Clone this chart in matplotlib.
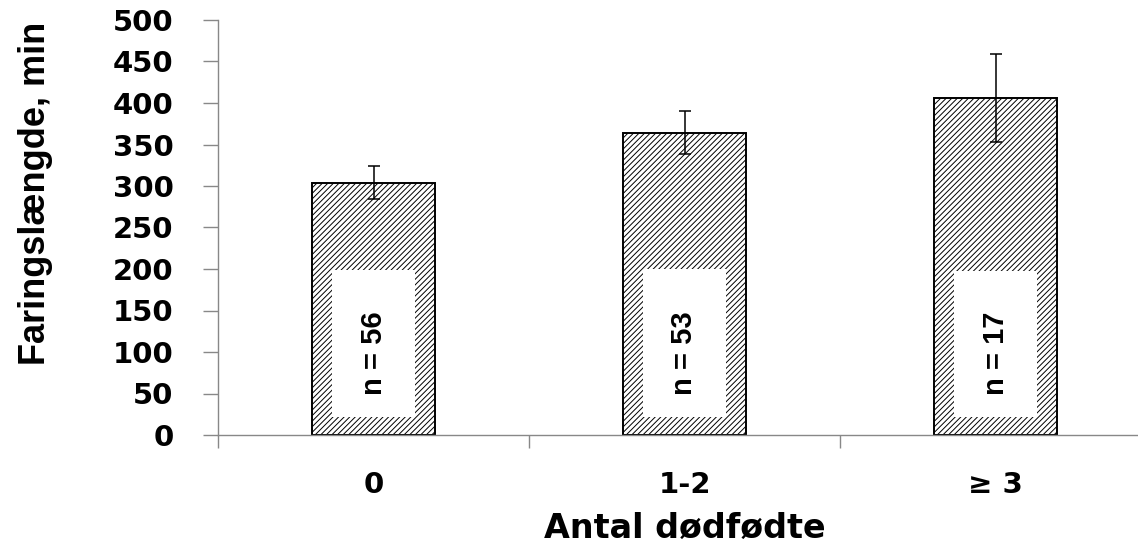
import matplotlib
matplotlib.use("Agg")
import matplotlib.pyplot as plt
import numpy as np

categories = ["0", "1-2", "\u2265 3"]
means = [304, 364, 406]
errors = [20, 26, 53]
n_labels = ["n = 56", "n = 53", "n = 17"]
box_bottom = [22, 22, 22]
box_top = [199, 200, 198]
yticks = [0, 50, 100, 150, 200, 250, 300, 350, 400, 450, 500]

plt.rcParams['hatch.linewidth'] = 0.7
plt.rcParams['hatch.color'] = '#222222'

fig = plt.figure(figsize=(11.38, 5.46), dpi=100)
ax = fig.add_axes([218/1138, 1-435/546, 933/1138, 415/546])

x = np.arange(len(categories))
ax.bar(x, means, width=0.395, color='white', edgecolor='black',
       linewidth=1.4, hatch='//////', zorder=2)
ax.errorbar(x, means, yerr=errors, fmt='none', ecolor='black',
            elinewidth=1.1, capsize=4, capthick=1.1, zorder=4)
heights = [t - b for t, b in zip(box_top, box_bottom)]
ax.bar(x, heights, bottom=box_bottom, width=0.267, color='white',
       edgecolor='none', zorder=3)
sans = ['Liberation Sans', 'DejaVu Sans']
for xi, lab, b, t in zip(x, n_labels, box_bottom, box_top):
    ax.text(xi, (b + t) / 2 - 12, lab, rotation=90, ha='center', va='center',
            fontsize=21, fontweight='bold', family=sans, zorder=5)

ax.set_xlim(-0.5, 2.5)
ax.set_ylim(0, 500)
ax.set_yticks(yticks)
ax.set_yticklabels([str(v) for v in yticks], fontsize=21, fontweight='bold',
                   family='DejaVu Sans')
ax.set_xticks([-0.5, 0.5, 1.5, 2.5])
ax.set_xticklabels([])
ax.set_xticks(x, minor=True)
ax.set_xticklabels(categories, minor=True, fontsize=21, fontweight='bold',
                   family='DejaVu Sans')
ax.tick_params(axis='y', direction='out', length=11, width=1, color='#888888', pad=21)
ax.tick_params(axis='x', which='major', direction='out', length=9, width=1, color='#888888')
ax.tick_params(axis='x', which='minor', length=0, pad=26)

for s in ['top', 'right']:
    ax.spines[s].set_visible(False)
for s in ['left', 'bottom']:
    ax.spines[s].set_color('#888888')
    ax.spines[s].set_linewidth(1)

ax.set_xlabel("Antal d\u00f8df\u00f8dte", fontsize=24, fontweight='bold',
              family='DejaVu Sans', labelpad=9)
fig.text(36/1138, 1-193/546, "Faringsl\u00e6ngde, min", rotation=90,
         ha='center', va='center', fontsize=26, fontweight='bold', family=sans)

fig.savefig("out.png", dpi=100)
